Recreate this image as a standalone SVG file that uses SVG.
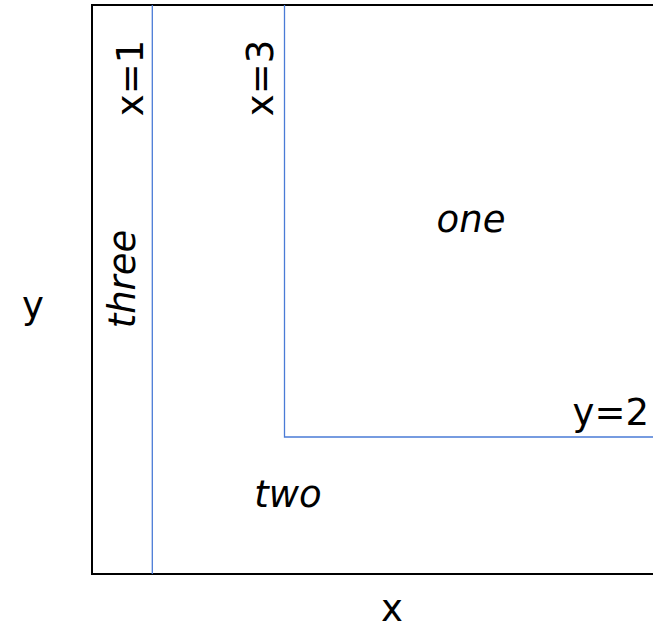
<svg xmlns="http://www.w3.org/2000/svg" width="653" height="631" viewBox="0 0 653 631">
<style>
.t{font-family:"DejaVu Sans","Liberation Sans",sans-serif;font-size:37px;fill:#000}
.i{font-style:italic}
.frame{fill:none;stroke:#000;stroke-width:2}
.bl{fill:none;stroke:#4a7bd6;stroke-width:1.3}
</style>
<rect width="653" height="631" fill="#fff"/>
<g id="frame"><rect class="frame" x="92" y="5" width="600" height="569"/></g>
<g id="connectors">
<line class="bl" x1="152.3" y1="5" x2="152.3" y2="574"/>
<polyline class="bl" points="284.5,5 284.5,437 654,437"/>
</g>
<g id="label-x1"><text class="t" text-anchor="middle" transform="translate(143,78) rotate(-90)">x=1</text></g>
<g id="label-x3"><text class="t" text-anchor="middle" transform="translate(273,78) rotate(-90)">x=3</text></g>
<g id="label-y2"><text class="t" text-anchor="end" x="649" y="425">y=2</text></g>
<g id="region-one"><text class="t i" text-anchor="middle" x="471" y="232">one</text></g>
<g id="region-two"><text class="t i" text-anchor="middle" x="288" y="507">two</text></g>
<g id="region-three"><text class="t i" text-anchor="middle" transform="translate(135,279) rotate(-90)">three</text></g>
<g id="axis-y"><text class="t" text-anchor="middle" x="33" y="318">y</text></g>
<g id="axis-x"><text class="t" text-anchor="middle" x="392" y="621">x</text></g>
</svg>
